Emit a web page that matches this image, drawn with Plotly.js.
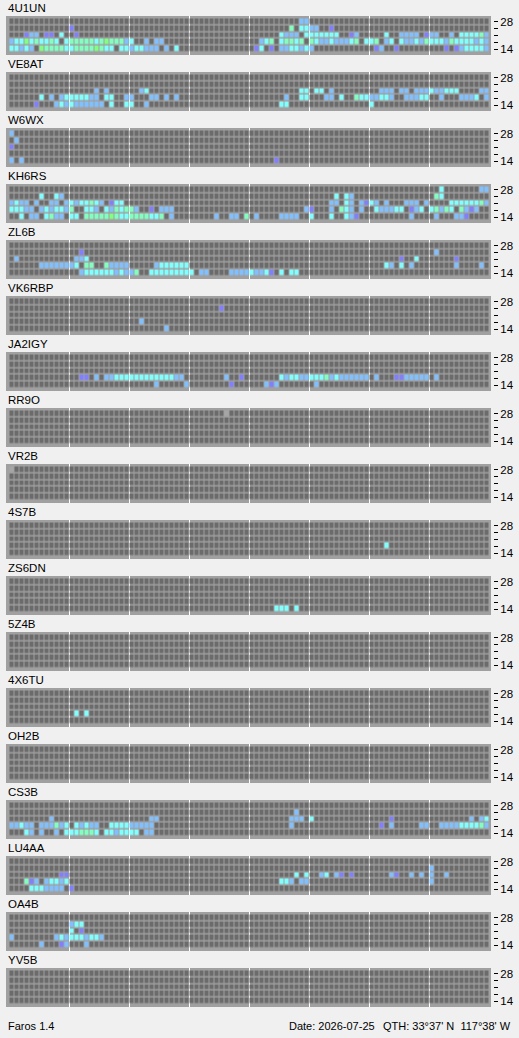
<!DOCTYPE html>
<html>
<head>
<meta charset="utf-8">
<script src="https://cdn.plot.ly/plotly-3.0.1.min.js"></script>
<style>
html,body{margin:0;padding:0;background:#f0f0f0;}
#chart{width:519px;height:1038px;}
</style>
</head>
<body>
<div id="chart"></div>
<script>
// Beacon stations (top to bottom)
const stations = ["4U1UN","VE8AT","W6WX","KH6RS","ZL6B","VK6RBP","JA2IGY","RR9O","VR2B","4S7B","ZS6DN","5Z4B","4X6TU","OH2B","CS3B","LU4AA","OA4B","YV5B"];
// Band labels (bottom to top rows)
const bandLabels = ["14","","","","28"];
// Signal level codes: P=1 (weak) B=2 C=3 A=4 G=5 (strong), X=not monitored
// Each entry: "column+code" tokens, 96 time columns
const band28 = ["58B 59B","","0B","86C 94B 95B","","","","43X","0X","","","","","","","","",""];
const band24 = ["12P 56A 58C 59C 60B 61B 64P","","1B","6C 9C 10B 65C 67C 68B 85A 86C","14P 85B","42P","","","","","","","","","57B","84B","12B 13C 14C",""];
const band21 = [
 "3P 4B 5B 7P 8P 10C 13P 54C 55B 56B 57B 59C 60C 61C 62C 63C 64C 65C 68P 69B 75C 78B 79B 80B 81B 83P 84B 85B 88B 90C 91C 92C 93C 94A 95B",
 "17B 19B 26B 27C 58C 59C 61C 62C 64B 74B 75B 76B 78B 79B 81B 82B 83B 84C 85B 86B 87C 88C 89C 94B 95B",
 "0P",
 "0B 1C 2B 3B 5B 8B 9B 11B 12C 13B 14C 15C 16A 17C 18B 20P 21C 22C 64B 65B 67C 68B 70B 71P 72C 73B 75B 79B 80B 81B 83B 88C 89C 90C 91C 92C 93C 94A 95B",
 "1B 13B 14B 15C 78P 81C 89P",
 "","","","","","","","","",
 "8B 28B 29B 56B 57B 58B 60C 76P 92B 94B 95C",
 "10P 11P 57C 59C 62B 63C 65B 66P 68P 76B 77P 80B 82B 84B 87B",
 "12C 14P",
 ""];
const band18 = [
 "0B 1C 2C 3G 4C 5A 6C 7C 8A 9C 11C 12A 13A 14A 15A 16A 17C 18A 19G 20A 21A 22A 23B 24C 27B 29B 30B 50B 51C 52A 54C 55A 56A 57C 58A 60A 61C 62B 63B 64C 65B 66B 67B 68C 69A 71C 72C 73A 75B 76C 78C 79B 80B 81C 82B 83A 84C 85C 86C 87B 88A 89C 90C 91C 92C 93B 94C 95B",
 "6C 8B 10B 11C 12C 13C 14C 15C 16B 17B 19C 20C 23B 24B 28B 29B 31B 33B 55B 58C 59C 63B 64B 66C 69A 70C 71C 72B 73B 74C 75C 76B 79B 80B 81B 82C 83C 86B 90B 91B 92B 93C 95B",
 "",
 "0C 1C 2C 3B 4B 6B 7C 8B 9C 10C 11B 12A 15C 16C 17B 19C 20B 21A 22C 23A 24A 25B 28P 30B 31B 32B 59B 60P 64B 66A 67C 68B 70B 73C 74B 75B 76B 77C 78C 80P 81B 82C 84C 85A 86B 87A 88C 90A 91B 92P 93B",
 "6B 7B 8B 9B 10B 11B 12B 13C 15A 16A 19A 20B 21B 22B 23B 29B 30C 31C 32C 33C 34C 35C 75C 76B 78C 80B 89B 94B",
 "26B",
 "14P 15P 17B 19B 20B 21C 22C 23C 24C 25C 26C 27C 28C 29C 30C 31C 32C 33B 34B 43B 46P 54C 55B 56C 57C 58B 59B 60C 61C 62C 63A 64B 65C 66B 67B 68B 69B 70B 71B 73B 77P 78P 79B 80B 81B 82B 83B 85B",
 "","",
 "75C",
 "","",
 "13C 15C",
 "",
 "0B 1B 2C 3B 4B 6B 7B 8B 9A 10B 11C 13C 14B 15C 16B 17B 20C 21C 22C 23C 24B 25B 26B 27B 28B 56B 74P 76B 82B 83B 86B 87B 88B 89B 90C 91C 92C 93C 94A 95B",
 "3A 4P 5B 7B 8C 9C 10B 11C 54C 55C 56B 58B 59B 84B",
 "0B 9B 10C 11B 12C 13C 14C 15B 16C 17C 18B",
 ""];
const band14 = [
 "0C 1C 2B 3C 4B 6G 7A 8A 9A 10A 11C 12C 13A 14A 15A 16A 17G 18A 19C 20C 22C 23C 24B 25C 26C 27B 28B 29B 31B 33C 49P 50C 52P 54B 55B 56C 57C 58B 59C 60B 73P 74B 77P 87P 89P 90B 91C 92C 93C 94C 95B",
 "5P 9B 10C 11B 12C 13B 14B 15B 16B 17B 18B 20C 23C 24C 27B 54C 55C 72C",
 "0B 2B 53P",
 "2C 4B 5B 7C 8A 9B 10B 12C 13C 15A 16A 17A 18A 19A 20G 21A 22C 23C 24A 25A 26A 27A 28C 29C 30A 32B 41B 44B 45B 47A 49B 54B 55B 56B 57B 60C 64C 67C 68B 69P 80B 85B 89B 90B 91P",
 "14B 15C 16C 17C 18C 19C 20C 21B 22C 23B 24B 25A 28C 29C 30C 31C 32C 33C 34C 35C 36C 38B 39B 44B 45B 46B 47B 48C 49B 50B 51C 52P 54C 56C 57C",
 "31B",
 "29B 35B 44P 51B 52P 53B 61B",
 "","","",
 "53C 54C 55C 57C",
 "","","",
 "3C 4B 6B 9B 11C 12C 13C 14A 15A 16A 17C 19C 20C 21B 22C 23C 24C 25C 27B 28B",
 "4C 5C 6C 7B 8B 9B 10B 12P",
 "6B 10P 11B 15B",
 ""];
const footerLeft = "Faros 1.4";
const footerDate = "Date: 2026-07-25";
const footerQth = "QTH: 33°37' N\u00a0\u00a0117°38' W";

const NCOL = 96;
const LEVEL = {P:1,B:2,C:3,A:4,G:5,X:6};
function parseRow(s){
  const a = new Array(NCOL).fill(0);
  s.split(/\s+/).filter(Boolean).forEach(t=>{
    const c = parseInt(t,10); const L = t.slice(-1);
    a[c] = LEVEL[L];
  });
  return a;
}
const colorscale = [
  [0/6,'#6b6b6b'],[1/6,'#8080ff'],[2/6,'#80c0ff'],[3/6,'#80ffff'],
  [4/6,'#80ffc0'],[5/6,'#80ff80'],[6/6,'#a6a6a6']
];
const W = 519, H = 1038;
const FONT = 'Liberation Sans, Arial, sans-serif';
const cols = Array.from({length:NCOL},(_,i)=>i);
const gridVals = [11.5,23.5,35.5,47.5,59.5,71.5,83.5];

const data = [];
const layout = {
  width: W, height: H,
  margin: {l:0,r:0,t:0,b:0},
  paper_bgcolor: '#f0f0f0',
  plot_bgcolor: '#a0a0a0',
  showlegend: false,
  font: {family: FONT, size: 11, color: '#000'},
  annotations: []
};
const pitch = 56, top0 = 16, ph = 39;
stations.forEach((name,k)=>{
  const z = [band14[k],band18[k],band21[k],band24[k],band28[k]].map(parseRow);
  const ax = k===0 ? '' : String(k+1);
  data.push({
    type:'heatmap', z:z, x:cols, y:[0,1,2,3,4],
    xaxis:'x'+ax, yaxis:'y'+ax,
    colorscale:colorscale, zmin:0, zmax:6, showscale:false,
    xgap:1, ygap:1.5, hoverinfo:'skip'
  });
  const yTop = top0 + pitch*k, yBot = yTop + ph;
  layout['xaxis'+ax] = {
    domain:[6/W, 491/W], range:[-1.2, 95.8], fixedrange:true,
    anchor:'y'+ax, tickvals:gridVals, showticklabels:false, ticks:'',
    showgrid:true, gridcolor:'#ffffff', gridwidth:1, zeroline:false, showline:false
  };
  layout['yaxis'+ax] = {
    domain:[1-yBot/H, 1-yTop/H], range:[-0.87, 4.87], fixedrange:true,
    anchor:'free', position:493/W, side:'right',
    tickvals:[0,1,2,3,4], ticktext:bandLabels, ticks:'outside', ticklen:4,
    tickwidth:1, tickcolor:'#000', showgrid:false, zeroline:false, showline:false,
    tickfont:{family:FONT, size:11.5, color:'#000'}
  };
  layout.annotations.push({
    xref:'paper', yref:'paper', x:6/W, y:1-(yTop-8)/H, xanchor:'left', yanchor:'middle',
    text:name, showarrow:false, font:{family:FONT,size:11.5,color:'#000'}
  });
});
layout.annotations.push({
  xref:'paper', yref:'paper', x:6/W, y:1-1026/H, xanchor:'left', yanchor:'middle',
  text:footerLeft, showarrow:false, font:{family:FONT,size:11,color:'#000'}
});
layout.annotations.push({
  xref:'paper', yref:'paper', x:377/W, y:1-1026/H, xanchor:'right', yanchor:'middle',
  text:footerDate, showarrow:false, font:{family:FONT,size:11,color:'#000'}
});
layout.annotations.push({
  xref:'paper', yref:'paper', x:513/W, y:1-1026/H, xanchor:'right', yanchor:'middle',
  text:footerQth, showarrow:false, font:{family:FONT,size:11,color:'#000'}
});
Plotly.newPlot('chart', data, layout, {staticPlot:true, displayModeBar:false});
</script>
</body>
</html>
